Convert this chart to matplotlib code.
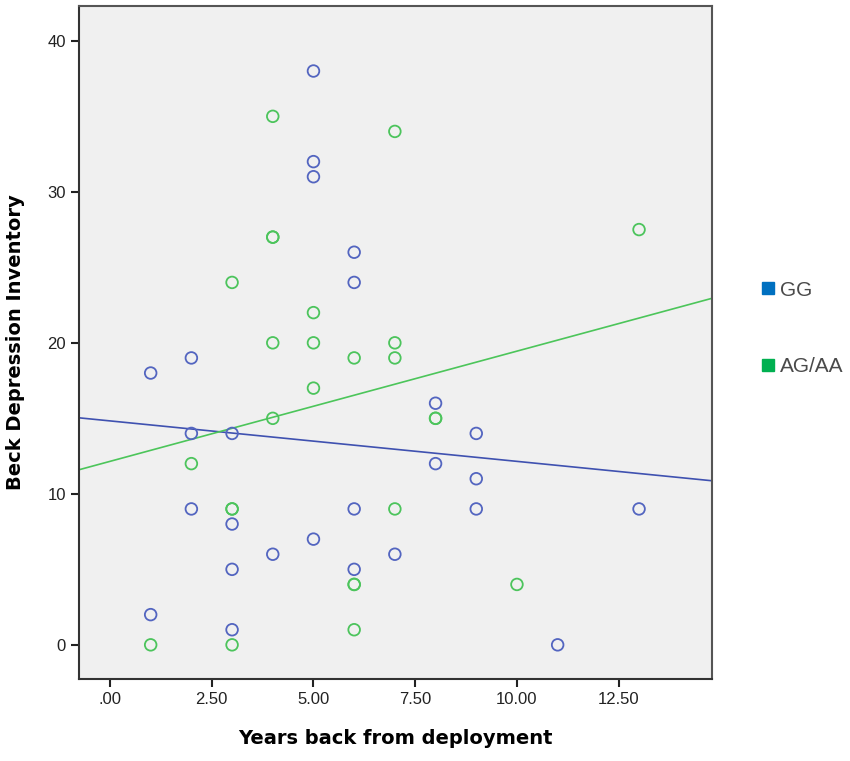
import matplotlib.pyplot as plt
from matplotlib.ticker import FuncFormatter
from matplotlib.lines import Line2D

# GG group
gg_x = [1, 1, 2, 2, 2, 3, 3, 3, 3, 4, 5, 5, 5, 5, 6, 6, 6, 6, 7, 8, 8, 9, 9, 9, 11, 13]
gg_y = [18, 2, 19, 14, 9, 14, 8, 5, 1, 6, 38, 32, 31, 7, 26, 24, 9, 5, 6, 16, 12, 14, 11, 9, 0, 9]

# AG/AA group
ag_x = [1, 2, 3, 3, 3, 3, 4, 4, 4, 4, 4, 5, 5, 5, 6, 6, 6, 6, 7, 7, 7, 7, 8, 8, 10, 13]
ag_y = [0, 12, 24, 9, 9, 0, 35, 27, 27, 20, 15, 22, 20, 17, 19, 4, 4, 1, 34, 20, 19, 9, 15, 15, 4, 27.5]

# fit lines: intercept, slope
gg_fit = [14.83, -0.268]
ag_fit = [12.15, 0.73]

legend_labels = ["GG", "AG/AA"]

blue_pt = "#5365C0"
green_pt = "#4CC45C"
blue_line = "#3F51B0"
green_line = "#4CC55A"

fig = plt.figure(figsize=(8.5, 7.61), dpi=100)
ax = fig.add_axes([0.093, 0.108, 0.745, 0.884])
ax.set_facecolor("#F0F0F0")

xmin, xmax = -0.76, 14.8
ax.set_xlim(xmin, xmax)
ax.set_ylim(-2.25, 42.3)

ax.scatter(gg_x, gg_y, s=70, facecolors="none", edgecolors=blue_pt, linewidths=1.3, zorder=3)
ax.scatter(ag_x, ag_y, s=70, facecolors="none", edgecolors=green_pt, linewidths=1.3, zorder=3)

ax.plot([xmin, xmax], [gg_fit[0] + gg_fit[1] * xmin, gg_fit[0] + gg_fit[1] * xmax],
        color=blue_line, lw=1.2, zorder=2)
ax.plot([xmin, xmax], [ag_fit[0] + ag_fit[1] * xmin, ag_fit[0] + ag_fit[1] * xmax],
        color=green_line, lw=1.2, zorder=2)

ax.set_xticks([0, 2.5, 5, 7.5, 10, 12.5])
ax.set_yticks([0, 10, 20, 30, 40])
ax.xaxis.set_major_formatter(FuncFormatter(lambda v, p: ".00" if v == 0 else "%.2f" % v))
ax.tick_params(direction="out", length=6, width=1.5, labelsize=12, colors="#222222")
for t in ax.get_xticklabels() + ax.get_yticklabels():
	t.set_fontfamily("Liberation Sans")

for s in ["left", "bottom"]:
	ax.spines[s].set_color("#333333")
	ax.spines[s].set_linewidth(1.5)
for s in ["top", "right"]:
	ax.spines[s].set_color("#555555")
	ax.spines[s].set_linewidth(1.5)

ax.set_xlabel("Years back from deployment", fontsize=14, fontweight="bold", labelpad=16)
ax.set_ylabel("Beck Depression Inventory", fontsize=14, fontweight="bold", labelpad=16)

handles = [Line2D([], [], marker="s", ls="none", color="#0070C0", markersize=9),
           Line2D([], [], marker="s", ls="none", color="#00B050", markersize=9)]
leg = fig.legend(handles, legend_labels, loc="upper left", bbox_to_anchor=(0.882, 0.645),
                 frameon=False, handletextpad=0.15, labelspacing=2.75, handlelength=0.8,
                 borderpad=0, prop={"family": "Liberation Sans", "size": 15})
for t in leg.get_texts():
	t.set_color("#4A4A4A")

plt.savefig("out.png", dpi=100)
